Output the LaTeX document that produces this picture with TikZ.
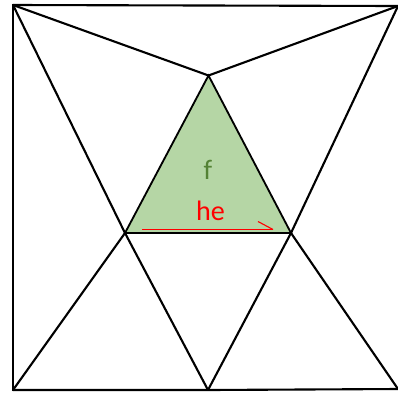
\documentclass[tikz,border=0pt]{standalone}
\usepackage{fontspec}
\setmainfont{Carlito}
\begin{document}
\begin{tikzpicture}[x=0.25mm,y=-0.25mm,
  edge/.style={line width=1.5pt,black,line cap=round,line join=miter},
  tri/.style={fill=triGreen,draw=black,line width=1.3pt,line join=miter},
  lbl/.style={inner sep=0pt}]
\definecolor{triGreen}{HTML}{B5D6A5}
\definecolor{labGreen}{HTML}{548235}
\useasboundingbox (0,0) rectangle (398,394);
\fill[white] (0,0) rectangle (398,394);
\coordinate (TL) at (13,5);
\coordinate (TR) at (398,6);
\coordinate (BL) at (13,390);
\coordinate (BR) at (398,389);
\coordinate (A) at (208.5,75.5);
\coordinate (L) at (125,233);
\coordinate (R) at (291,233);
\coordinate (BM) at (208,390);
\coordinate (rs) at (142,229.5);
\coordinate (re) at (273,229.5);
\coordinate (rt) at (258,221.5);
\fill[triGreen] (A) -- (L) -- (R) -- cycle;
\draw[edge] (TL) -- (TR);
\draw[edge] (TL) -- (BL);
\draw[edge] (BL) -- (BM) -- (BR);
\draw[edge] (TL) -- (A);
\draw[edge] (TR) -- (A);
\draw[edge] (TL) -- (L);
\draw[edge] (L) -- (BM);
\draw[edge] (TR) -- (R);
\draw[edge] (R) -- (BM);
\draw[edge] (L) -- (BL);
\draw[edge] (R) -- (BR);
\draw[tri,fill=none] (A) -- (L) -- (R) -- cycle;
\draw[red,line width=0.8pt] (rs) -- (re);
\draw[red,line width=0.8pt] (rt) -- (re);
\node[lbl,anchor=base,text=labGreen,font=\fontsize{20}{20}\selectfont] (f) at (208,179) {f};
\node[lbl,anchor=base,text=red,font=\fontsize{20}{20}\selectfont] (he) at (210.5,220.5) {he};
\end{tikzpicture}
\end{document}
